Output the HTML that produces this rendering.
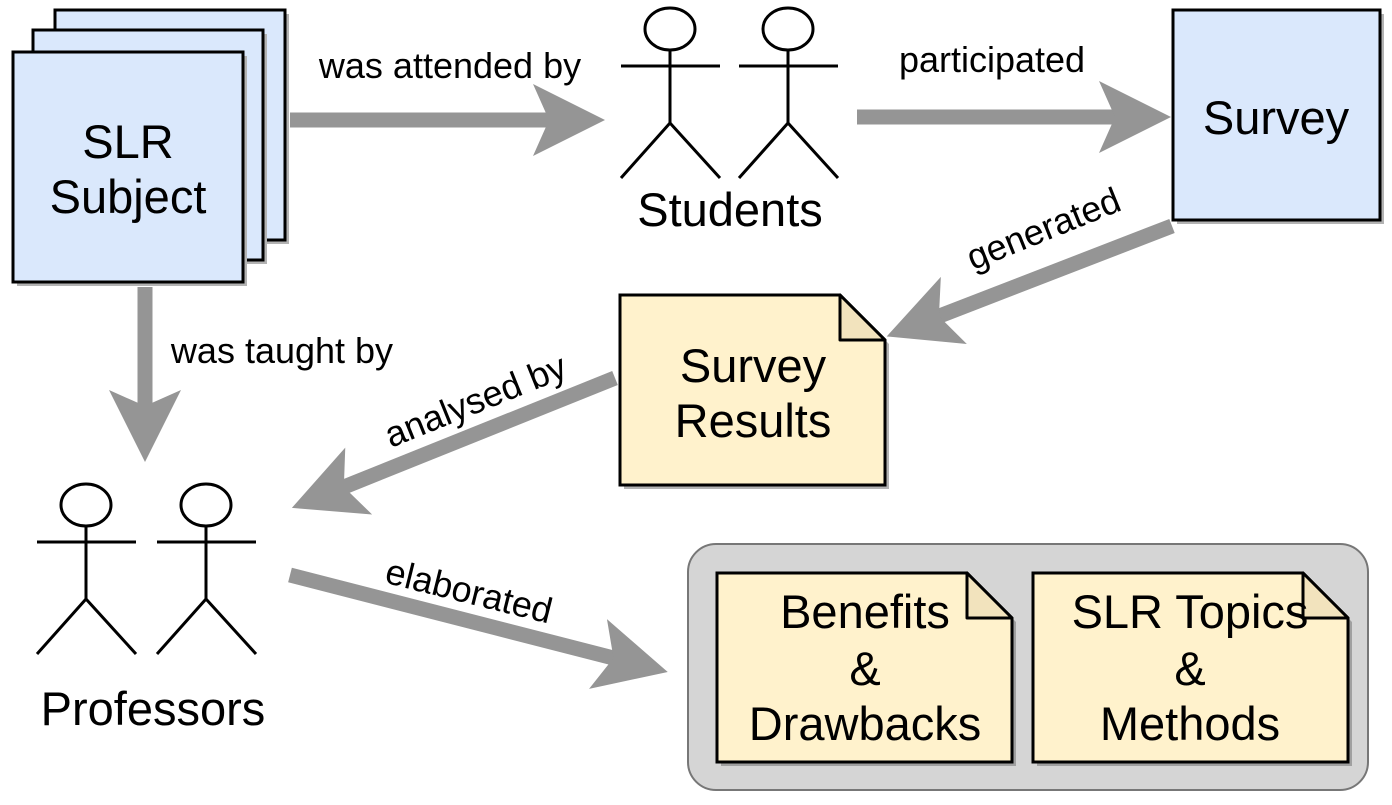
<!DOCTYPE html>
<html><head><meta charset="utf-8"><style>
html,body{margin:0;padding:0;background:#fff;}
svg{display:block;font-family:"Liberation Sans",Arial,sans-serif;}
</style></head><body>
<svg width="1392" height="805" viewBox="0 0 1392 805" xmlns="http://www.w3.org/2000/svg">
<defs>
<marker id="ah" markerUnits="userSpaceOnUse" markerWidth="90" markerHeight="90" refX="-40" refY="0" viewBox="-80 -45 90 90" orient="auto" overflow="visible">
<path d="M0,0 L-72,-36 L-56,0 L-72,36 Z" fill="#959595"/>
</marker>
</defs>
<g stroke="#959595" stroke-width="15" fill="none" marker-end="url(#ah)">
<line x1="290" y1="120" x2="565" y2="120"/>
<line x1="857" y1="117" x2="1131" y2="117"/>
<line x1="1172" y1="226" x2="924" y2="322"/>
<line x1="145" y1="287" x2="145" y2="422"/>
<line x1="615" y1="378" x2="329" y2="493"/>
<line x1="290" y1="575" x2="629" y2="662"/>
</g>
<g stroke="#000" stroke-width="3" fill="#dae8fc">
<rect x="59" y="14" width="230" height="230" fill="#b3b3b3" stroke="none"/>
<rect x="55" y="10" width="230" height="230"/>
<rect x="37" y="34" width="230" height="230" fill="#b3b3b3" stroke="none"/>
<rect x="33" y="30" width="230" height="230"/>
<rect x="17" y="56" width="230" height="230" fill="#b3b3b3" stroke="none"/>
<rect x="13" y="52" width="230" height="230"/>
</g>
<g font-size="47" text-anchor="middle">
<text x="128" y="158">SLR</text>
<text x="128" y="213">Subject</text>
</g>
<rect x="1177" y="14" width="207" height="210" fill="#b3b3b3"/>
<rect x="1173" y="10" width="207" height="210" fill="#dae8fc" stroke="#000" stroke-width="3"/>
<path d="M624,299 H844 L889,344 V489 H624 Z" fill="#b3b3b3"/>
<path d="M620,295 H840 L885,340 V485 H620 Z" fill="#fff2cc" stroke="#000" stroke-width="3"/>
<path d="M840,295 V340 H885 Z" fill="#f2e3bd" stroke="#000" stroke-width="3" stroke-linejoin="round"/>
<rect x="688" y="544" width="680" height="246" rx="28" fill="#d5d5d5" stroke="#777" stroke-width="2"/>
<path d="M721,577 H971 L1016,622 V766 H721 Z" fill="#a0a0a0"/>
<path d="M717,573 H967 L1012,618 V762 H717 Z" fill="#fff2cc" stroke="#000" stroke-width="3"/>
<path d="M967,573 V618 H1012 Z" fill="#f2e3bd" stroke="#000" stroke-width="3" stroke-linejoin="round"/>
<path d="M1037,577 H1307 L1352,622 V766 H1037 Z" fill="#a0a0a0"/>
<path d="M1033,573 H1303 L1348,618 V762 H1033 Z" fill="#fff2cc" stroke="#000" stroke-width="3"/>
<path d="M1303,573 V618 H1348 Z" fill="#f2e3bd" stroke="#000" stroke-width="3" stroke-linejoin="round"/>
<g font-size="47" text-anchor="middle">
<text x="1276" y="134">Survey</text>
<text x="753" y="382">Survey</text>
<text x="753" y="437">Results</text>
<text x="865" y="628">Benefits</text>
<text x="865" y="685">&amp;</text>
<text x="865" y="740">Drawbacks</text>
<text x="1190" y="628">SLR Topics</text>
<text x="1190" y="685">&amp;</text>
<text x="1190" y="740">Methods</text>
<text x="730" y="226">Students</text>
<text x="153" y="725">Professors</text>
</g>
<g stroke="#000" stroke-width="3" fill="#fff">
<g id="fig">
<ellipse cx="670" cy="29" rx="25" ry="21"/>
<line x1="670" y1="50" x2="670" y2="123"/>
<line x1="621" y1="66" x2="720" y2="66"/>
<polyline points="621,178 670,123 720,178" fill="none"/>
</g>
<use href="#fig" x="118" y="0"/>
<use href="#fig" x="-584" y="476"/>
<use href="#fig" x="-464" y="476"/>
</g>
<g font-size="36">
<text x="450" y="78" text-anchor="middle">was attended by</text>
<text x="992" y="72" text-anchor="middle">participated</text>
<text x="282" y="363" text-anchor="middle">was taught by</text>
<text x="0" y="0" text-anchor="middle" transform="translate(1048,240) rotate(-22)">generated</text>
<text x="0" y="0" text-anchor="middle" transform="translate(480,412) rotate(-22)">analysed by</text>
<text x="0" y="0" text-anchor="middle" transform="translate(466,603) rotate(14)">elaborated</text>
</g>
</svg>
</body></html>
